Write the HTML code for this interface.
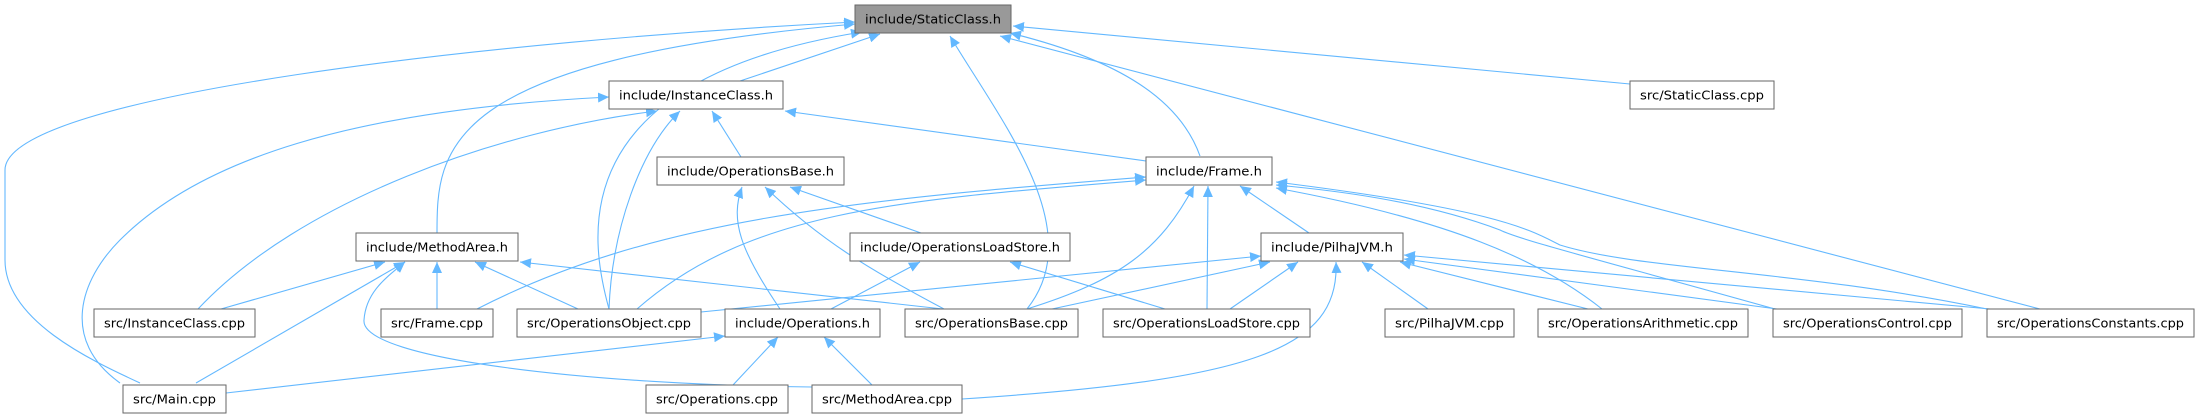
<!DOCTYPE html>
<html><head><meta charset="utf-8">
<style>
html,body{margin:0;padding:0;background:#fff;}
svg{display:block;}
text{font-family:"DejaVu Sans","Liberation Sans",sans-serif;font-size:12.5px;fill:#000;}
.e{fill:none;stroke:#63b8ff;stroke-width:1.1;}
.b{fill:#fff;stroke:#666;stroke-width:1;}
.s{fill:#bbb;}
</style></head><body>
<svg width="2198" height="417" viewBox="0 0 2198 417" xmlns="http://www.w3.org/2000/svg">
<defs>
<marker id="a" markerUnits="userSpaceOnUse" markerWidth="12" markerHeight="10" refX="11" refY="5" orient="auto">
<path d="M0,0 L11,5 L0,10 Z" fill="#63b8ff"/>
</marker>
</defs>
<g class="edges">
<!-- to StaticClass.h -->
<path class="e" marker-end="url(#a)" d="M740,81 L880,34"/>
<path class="e" marker-end="url(#a)" d="M140,383 C90,360 5,320 5,260 L5,170 C5,95 500,40 855,22"/>
<path class="e" marker-end="url(#a)" d="M437,233 C437,150 440,60 855,24"/>
<path class="e" marker-end="url(#a)" d="M609,309 C590,240 560,80 862,32"/>
<path class="e" marker-end="url(#a)" d="M1027,309 C1090,230 1000,120 950,36"/>
<path class="e" marker-end="url(#a)" d="M1200,156 C1180,100 1120,60 1010,33"/>
<path class="e" marker-end="url(#a)" d="M2040,309 L1000,36"/>
<path class="e" marker-end="url(#a)" d="M1630,84 L1013,26"/>
<!-- to InstanceClass.h -->
<path class="e" marker-end="url(#a)" d="M120,383 C60,340 80,280 120,240 C200,160 350,110 609,97"/>
<path class="e" marker-end="url(#a)" d="M198,309 C300,200 500,130 657,111"/>
<path class="e" marker-end="url(#a)" d="M609,309 C612,230 640,150 680,111"/>
<path class="e" marker-end="url(#a)" d="M741,157 L712,111"/>
<path class="e" marker-end="url(#a)" d="M1146,161 L785,111"/>
<!-- to OperationsBase.h -->
<path class="e" marker-end="url(#a)" d="M780,309 C740,250 730,220 742,187"/>
<path class="e" marker-end="url(#a)" d="M944,309 C870,270 820,240 765,187"/>
<path class="e" marker-end="url(#a)" d="M921,233 L790,187"/>
<!-- to Frame.h -->
<path class="e" marker-end="url(#a)" d="M477,309 C650,220 850,200 1146,177"/>
<path class="e" marker-end="url(#a)" d="M637,309 C750,210 900,200 1146,180"/>
<path class="e" marker-end="url(#a)" d="M1027,309 C1120,280 1160,250 1194,186"/>
<path class="e" marker-end="url(#a)" d="M1207,309 L1208,186"/>
<path class="e" marker-end="url(#a)" d="M1309,233 L1240,186"/>
<path class="e" marker-end="url(#a)" d="M1602,309 C1540,260 1450,220 1276,188"/>
<path class="e" marker-end="url(#a)" d="M1775,309 C1600,260 1520,240 1500,230 C1420,200 1330,190 1276,185"/>
<path class="e" marker-end="url(#a)" d="M1987,309 C1800,270 1640,270 1560,245 C1530,230 1500,210 1276,182"/>
<!-- to MethodArea.h -->
<path class="e" marker-end="url(#a)" d="M221,309 L385,262"/>
<path class="e" marker-end="url(#a)" d="M196,383 L405,262"/>
<path class="e" marker-end="url(#a)" d="M812,387 C600,385 360,360 364,320 C366,290 390,275 405,262"/>
<path class="e" marker-end="url(#a)" d="M437,309 L437,262"/>
<path class="e" marker-end="url(#a)" d="M578,309 L475,262"/>
<path class="e" marker-end="url(#a)" d="M943,309 L520,262"/>
<!-- to OperationsLoadStore.h -->
<path class="e" marker-end="url(#a)" d="M831,309 L920,262"/>
<path class="e" marker-end="url(#a)" d="M1165,309 L1010,262"/>
<!-- to PilhaJVM.h -->
<path class="e" marker-end="url(#a)" d="M701,312 L1261,256"/>
<path class="e" marker-end="url(#a)" d="M1052,309 L1270,262"/>
<path class="e" marker-end="url(#a)" d="M1230,309 L1298,262"/>
<path class="e" marker-end="url(#a)" d="M962,399 C1250,380 1340,350 1336,262"/>
<path class="e" marker-end="url(#a)" d="M1428,309 L1362,262"/>
<path class="e" marker-end="url(#a)" d="M1588,309 L1400,262"/>
<path class="e" marker-end="url(#a)" d="M1777,309 L1404,259"/>
<path class="e" marker-end="url(#a)" d="M1990,309 L1404,255"/>
<!-- to Operations.h -->
<path class="e" marker-end="url(#a)" d="M226,393 L725,336"/>
<path class="e" marker-end="url(#a)" d="M733,385 L778,337"/>
<path class="e" marker-end="url(#a)" d="M872,385 L824,337"/>
</g>
<g class="nodes">
<!-- row1 -->
<rect x="855" y="5" width="156" height="28" fill="#999" stroke="#666"/>
<text x="933" y="23.5" text-anchor="middle" textLength="136" lengthAdjust="spacingAndGlyphs">include/StaticClass.h</text>
<!-- row2 -->
<rect class="b" x="609" y="81" width="174" height="28"/>
<text x="696" y="99.5" text-anchor="middle" textLength="154" lengthAdjust="spacingAndGlyphs">include/InstanceClass.h</text>
<rect class="b" x="1630" y="81" width="144" height="28"/>
<text x="1702" y="99.5" text-anchor="middle" textLength="124" lengthAdjust="spacingAndGlyphs">src/StaticClass.cpp</text>
<!-- row3 -->
<rect class="b" x="657" y="157" width="187" height="28"/>
<text x="750.5" y="175.5" text-anchor="middle" textLength="167" lengthAdjust="spacingAndGlyphs">include/OperationsBase.h</text>
<rect class="b" x="1146" y="157" width="126" height="28"/>
<text x="1209" y="175.5" text-anchor="middle" textLength="106" lengthAdjust="spacingAndGlyphs">include/Frame.h</text>
<!-- row4 -->
<rect class="b" x="356" y="233" width="162" height="28"/>
<text x="437" y="251.5" text-anchor="middle" textLength="142" lengthAdjust="spacingAndGlyphs">include/MethodArea.h</text>
<rect class="b" x="850" y="233" width="220" height="28"/>
<text x="960" y="251.5" text-anchor="middle" textLength="200" lengthAdjust="spacingAndGlyphs">include/OperationsLoadStore.h</text>
<rect class="b" x="1261" y="233" width="142" height="28"/>
<text x="1332" y="251.5" text-anchor="middle" textLength="122" lengthAdjust="spacingAndGlyphs">include/PilhaJVM.h</text>
<!-- row5 -->
<rect class="b" x="94" y="309" width="161" height="28"/>
<text x="174.5" y="327.5" text-anchor="middle" textLength="141" lengthAdjust="spacingAndGlyphs">src/InstanceClass.cpp</text>
<rect class="b" x="381" y="309" width="112" height="28"/>
<text x="437" y="327.5" text-anchor="middle" textLength="92" lengthAdjust="spacingAndGlyphs">src/Frame.cpp</text>
<rect class="b" x="517" y="309" width="184" height="28"/>
<text x="609" y="327.5" text-anchor="middle" textLength="164" lengthAdjust="spacingAndGlyphs">src/OperationsObject.cpp</text>
<rect class="b" x="725" y="309" width="155" height="28"/>
<text x="802.5" y="327.5" text-anchor="middle" textLength="135" lengthAdjust="spacingAndGlyphs">include/Operations.h</text>
<rect class="b" x="905" y="309" width="173" height="28"/>
<text x="991.5" y="327.5" text-anchor="middle" textLength="153" lengthAdjust="spacingAndGlyphs">src/OperationsBase.cpp</text>
<rect class="b" x="1103" y="309" width="207" height="28"/>
<text x="1206.5" y="327.5" text-anchor="middle" textLength="187" lengthAdjust="spacingAndGlyphs">src/OperationsLoadStore.cpp</text>
<rect class="b" x="1385" y="309" width="129" height="28"/>
<text x="1449.5" y="327.5" text-anchor="middle" textLength="109" lengthAdjust="spacingAndGlyphs">src/PilhaJVM.cpp</text>
<rect class="b" x="1538" y="309" width="210" height="28"/>
<text x="1643" y="327.5" text-anchor="middle" textLength="190" lengthAdjust="spacingAndGlyphs">src/OperationsArithmetic.cpp</text>
<rect class="b" x="1773" y="309" width="189" height="28"/>
<text x="1867.5" y="327.5" text-anchor="middle" textLength="169" lengthAdjust="spacingAndGlyphs">src/OperationsControl.cpp</text>
<rect class="b" x="1987" y="309" width="207" height="28"/>
<text x="2090.5" y="327.5" text-anchor="middle" textLength="187" lengthAdjust="spacingAndGlyphs">src/OperationsConstants.cpp</text>
<!-- row6 -->
<rect class="b" x="123" y="385" width="103" height="28"/>
<text x="174.5" y="403.5" text-anchor="middle" textLength="83" lengthAdjust="spacingAndGlyphs">src/Main.cpp</text>
<rect class="b" x="646" y="385" width="142" height="28"/>
<text x="717" y="403.5" text-anchor="middle" textLength="122" lengthAdjust="spacingAndGlyphs">src/Operations.cpp</text>
<rect class="b" x="812" y="385" width="150" height="28"/>
<text x="887" y="403.5" text-anchor="middle" textLength="130" lengthAdjust="spacingAndGlyphs">src/MethodArea.cpp</text>
</g>
</svg>
</body></html>
